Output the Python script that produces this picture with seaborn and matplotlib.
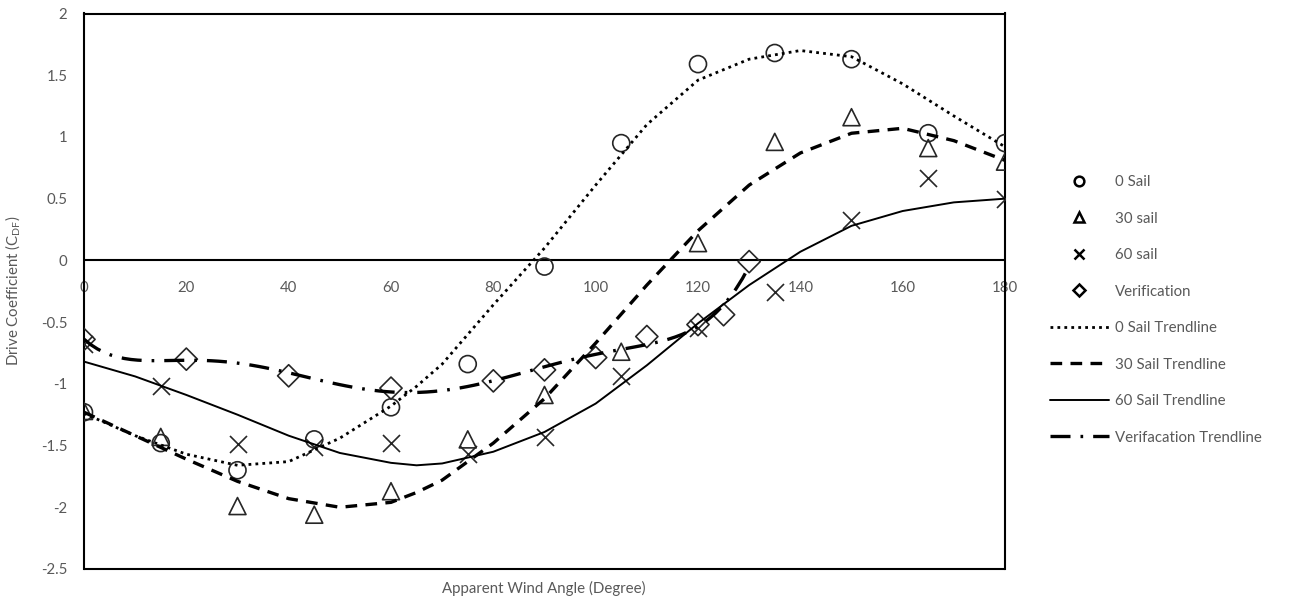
import numpy as np
import pandas as pd
import matplotlib
matplotlib.use("Agg")
import matplotlib.pyplot as plt
from matplotlib.lines import Line2D
import seaborn as sns

angles = [0, 15, 30, 45, 60, 75, 90, 105, 120, 135, 150, 165, 180]
sail0 = [-1.23, -1.48, -1.70, -1.45, -1.19, -0.84, -0.05, 0.95, 1.59, 1.68, 1.63, 1.03, 0.95]
sail30 = [-1.22, -1.43, -1.99, -2.06, -1.87, -1.45, -1.09, -0.74, 0.14, 0.96, 1.16, 0.91, 0.80]
sail60 = [-0.68, -1.02, -1.49, -1.51, -1.48, -1.57, -1.43, -0.935, -0.55, -0.26, 0.33, 0.67, 0.50]
ver_angles = [0, 20, 40, 60, 80, 90, 100, 110, 120, 125, 130]
verification = [-0.64, -0.80, -0.935, -1.035, -0.976, -0.887, -0.787, -0.617, -0.52, -0.44, -0.01]

# ---- trendline values ----
trend_angles = [0, 10, 20, 30, 40, 50, 60, 65, 70, 80, 90, 100, 110, 120, 130, 140, 150, 160, 170, 180]
trend0 = [-1.24, -1.42, -1.57, -1.66, -1.63, -1.44, -1.18, -1.02, -0.84, -0.36, 0.10, 0.61, 1.10, 1.46,
          1.63, 1.70, 1.65, 1.43, 1.17, 0.92]
trend30 = [-1.23, -1.42, -1.61, -1.79, -1.93, -2.00, -1.96, -1.88, -1.78, -1.48, -1.12, -0.67, -0.20, 0.24,
           0.61, 0.87, 1.03, 1.07, 0.97, 0.81]
trend60 = [-0.82, -0.94, -1.09, -1.25, -1.42, -1.56, -1.64, -1.66, -1.645, -1.55, -1.39, -1.16, -0.85, -0.51,
           -0.20, 0.07, 0.28, 0.40, 0.47, 0.50]

x_ticks = [0, 20, 40, 60, 80, 100, 120, 140, 160, 180]
y_ticks = [-2.5, -2, -1.5, -1, -0.5, 0, 0.5, 1, 1.5, 2]
y_ticklabels = ["-2.5", "-2", "-1.5", "-1", "-0.5", "0", "0.5", "1", "1.5", "2"]

sns.set_theme(style="white")
plt.rcParams["font.family"] = ["Lato", "DejaVu Sans"]
txt = "#595959"
mk = "#262626"
fs = 10.8

ls0 = (0, (1, 1.5))
ls30 = (0, (3.5, 2.5))
ls60 = "-"
lsv = (0, (6, 3, 0.8, 3))

fig = plt.figure(figsize=(13.04, 6.0), dpi=100)
ax = fig.add_axes([84 / 1304, 1 - 569 / 600, 921 / 1304, (569 - 13.5) / 600])

ms = 150
sns.scatterplot(x=angles, y=sail0, marker="o", s=ms, facecolor="none", edgecolor=mk, linewidth=1.2, ax=ax, zorder=3)
sns.scatterplot(x=angles, y=sail30, marker="^", s=ms, facecolor="none", edgecolor=mk, linewidth=1.2, ax=ax, zorder=3)
sns.scatterplot(x=angles, y=sail60, marker="x", s=ms, color=mk, linewidth=1.2, ax=ax, zorder=3)
sns.scatterplot(x=ver_angles, y=verification, marker="D", s=ms * 0.85, facecolor="none", edgecolor=mk, linewidth=1.2, ax=ax, zorder=3)

sns.lineplot(x=trend_angles, y=trend0, color="black", linestyle=ls0, lw=2.0, ax=ax, zorder=4)
sns.lineplot(x=trend_angles, y=trend30, color="black", linestyle=ls30, lw=2.4, ax=ax, zorder=4)
sns.lineplot(x=trend_angles, y=trend60, color="black", linestyle=ls60, lw=1.4, ax=ax, zorder=4)
sns.regplot(x=ver_angles, y=verification, order=6, ci=None, scatter=False, ax=ax,
            line_kws=dict(color="black", linestyle=lsv, lw=2.4, zorder=4))

ax.set_xlim(0, 180)
ax.set_ylim(-2.5, 2)
ax.axhline(0, color="black", lw=1.5, zorder=2)

for s in ["left", "top", "right"]:
    ax.spines[s].set_color("black")
    ax.spines[s].set_linewidth(1.5)
ax.spines["bottom"].set_position(("data", 0))
ax.spines["bottom"].set_visible(False)
ax.plot([0, 1], [0, 0], transform=ax.transAxes, color="black", lw=1.5, clip_on=False)

ax.set_xticks(x_ticks)
ax.set_xticklabels([str(t) for t in x_ticks])
ax.set_yticks(y_ticks)
ax.set_yticklabels(y_ticklabels)
ax.tick_params(axis="both", length=0, labelsize=fs, colors=txt)
ax.tick_params(axis="x", pad=14.5)
ax.tick_params(axis="y", pad=12)
ax.grid(False)

ax.set_xlabel("")
ax.set_ylabel("")
fig.text(544 / 1304, 1 - 588 / 600, "Apparent Wind Angle (Degree)", ha="center", va="center",
         color=txt, fontsize=fs)
fig.text(13 / 1304, 1 - 291 / 600, "Drive Coefficient (C$_{\\mathregular{DF}}$)", ha="center", va="center",
         rotation=90, color=txt, fontsize=fs)

handles = [
    Line2D([], [], linestyle="none", marker="o", markersize=7, markerfacecolor="none", markeredgecolor="black", markeredgewidth=1.8),
    Line2D([], [], linestyle="none", marker="^", markersize=7, markerfacecolor="none", markeredgecolor="black", markeredgewidth=1.8),
    Line2D([], [], linestyle="none", marker="x", markersize=7, color="black", markeredgewidth=1.8),
    Line2D([], [], linestyle="none", marker="D", markersize=6, markerfacecolor="none", markeredgecolor="black", markeredgewidth=1.8),
    Line2D([], [], color="black", linestyle=ls0, lw=2.0),
    Line2D([], [], color="black", linestyle=ls30, lw=2.4),
    Line2D([], [], color="black", linestyle=ls60, lw=1.4),
    Line2D([], [], color="black", linestyle=lsv, lw=2.4),
]
labels = ["0 Sail", "30 sail", "60 sail", "Verification", "0 Sail Trendline",
          "30 Sail Trendline", "60 Sail Trendline", "Verifacation Trendline"]
leg = fig.legend(handles, labels, loc="upper left", bbox_to_anchor=(1050 / 1304, 1 - 175 / 600),
                 frameon=False, fontsize=fs, handlelength=3.9, handletextpad=0.45,
                 labelspacing=1.5, borderpad=0, borderaxespad=0)
for t in leg.get_texts():
    t.set_color(txt)

fig.savefig("out.png", dpi=100)
